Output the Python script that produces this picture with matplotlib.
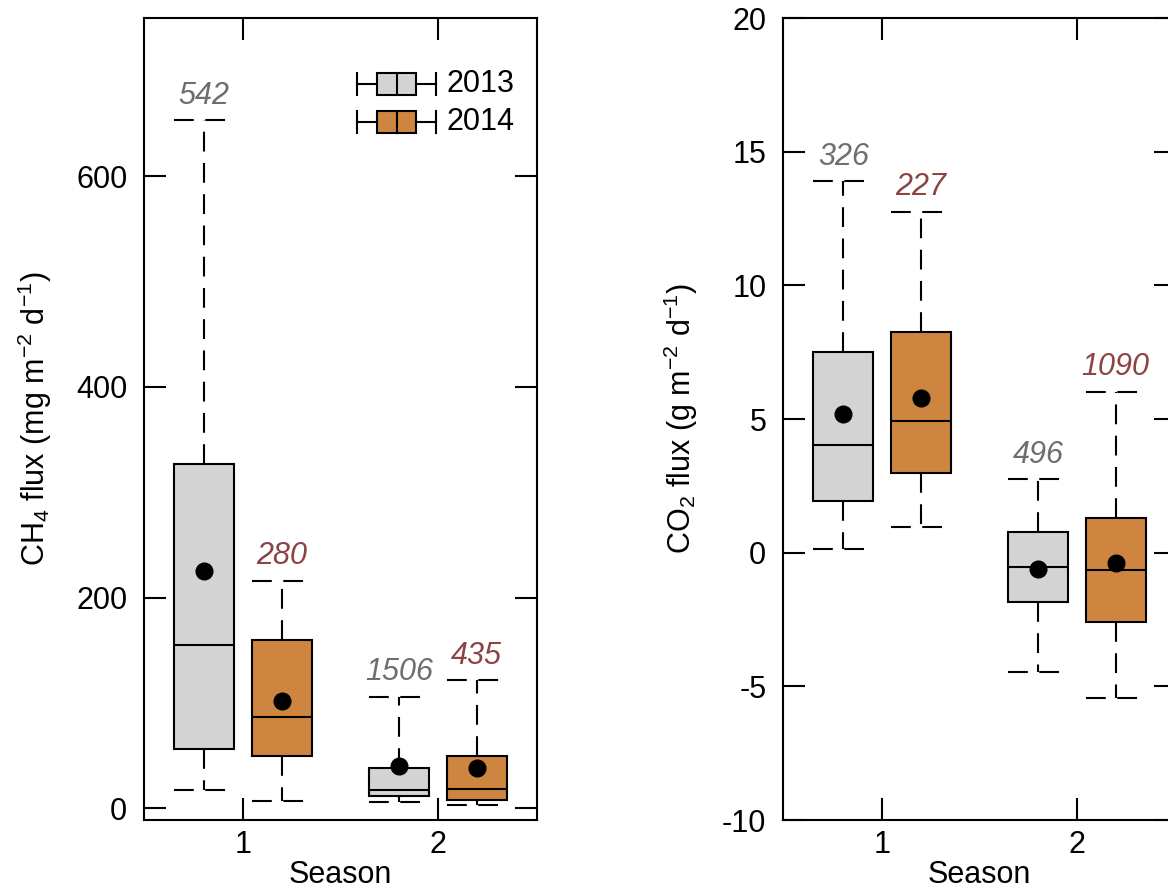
import matplotlib
matplotlib.use("Agg")
import matplotlib.pyplot as plt
from matplotlib.patches import Rectangle
from matplotlib.lines import Line2D

plt.rcParams['font.family'] = ['Liberation Sans', 'DejaVu Sans']
plt.rcParams['mathtext.fontset'] = 'custom'
plt.rcParams['mathtext.rm'] = 'Liberation Sans'
plt.rcParams['mathtext.it'] = 'Liberation Sans:italic'
plt.rcParams['mathtext.default'] = 'regular'

# ---------------- data ----------------
seasons = [1, 2]
years = ["2013", "2014"]

# CH4 flux: [whislo, q1, median, q3, whishi], means, n
ch4_2013 = [[17, 56, 155, 327, 653], [5.7, 11.4, 17, 38, 106]]
ch4_2014 = [[7, 50, 87, 160, 216], [2.9, 8.3, 18, 50, 122]]
ch4_mean_2013 = [225, 40]
ch4_mean_2014 = [102, 38]
ch4_n_2013 = [542, 1506]
ch4_n_2014 = [280, 435]

# CO2 flux
co2_2013 = [[0.14, 1.92, 4.02, 7.5, 13.9], [-4.46, -1.86, -0.52, 0.76, 2.76]]
co2_2014 = [[0.95, 2.99, 4.93, 8.27, 12.76], [-5.42, -2.6, -0.65, 1.29, 6.02]]
co2_mean_2013 = [5.18, -0.6]
co2_mean_2014 = [5.78, -0.37]
co2_n_2013 = [326, 496]
co2_n_2014 = [227, 1090]

col_2013 = "#D3D3D3"
col_2014 = "#CD853F"
txt_2013 = "#6E6E6E"
txt_2014 = "#8B4343"

W, H = 1168, 888
fig = plt.figure(figsize=(W / 100, H / 100), dpi=100)

def px_axes(l, t, r, b):
    return fig.add_axes([l / W, (H - b) / H, (r - l) / W, (b - t) / H])

ax1 = px_axes(144, 18, 537, 820)
ax2 = px_axes(783, 18, 1176, 820)

LW = 1.5
dash = (0, (9.5, 5.5))
FS = 22

def draw(ax, s2013, s2014, m2013, m2014, n2013, n2014):
    for stats_list, means, ns, col, tcol, off in [
        (s2013, m2013, n2013, col_2013, txt_2013, -0.2),
        (s2014, m2014, n2014, col_2014, txt_2014, 0.2),
    ]:
        bstats = []
        pos = []
        for i, s in enumerate(stats_list):
            bstats.append(dict(whislo=s[0], q1=s[1], med=s[2], q3=s[3],
                               whishi=s[4], mean=means[i], fliers=[]))
            pos.append(seasons[i] + off)
        ax.bxp(bstats, positions=pos, widths=0.31, capwidths=0.31,
               patch_artist=True, showmeans=True, showfliers=False,
               boxprops=dict(facecolor=col, edgecolor='black', linewidth=LW),
               medianprops=dict(color='black', linewidth=LW),
               whiskerprops=dict(color='black', linewidth=LW, linestyle=dash),
               capprops=dict(color='black', linewidth=LW, linestyle=dash),
               meanprops=dict(marker='o', markerfacecolor='black',
                              markeredgecolor='black', markersize=12))
        for i, s in enumerate(stats_list):
            ax.annotate(str(ns[i]), xy=(pos[i], s[4]), xytext=(0, 17.5),
                        textcoords='offset points', ha='center', va='center',
                        fontsize=FS, style='italic', color=tcol)
    ax.set_xticks(seasons)
    ax.set_xticklabels([str(s) for s in seasons])
    ax.set_xlim(0.49, 2.51)
    ax.tick_params(direction='in', length=15.8, width=LW, top=True,
                   right=True, labelsize=FS, pad=7)
    ax.tick_params(axis='y', pad=12)
    for sp in ax.spines.values():
        sp.set_linewidth(LW)
    ax.set_xlabel("Season", fontsize=FS)
    ax.xaxis.set_label_coords(0.5, -0.05)

draw(ax1, ch4_2013, ch4_2014, ch4_mean_2013, ch4_mean_2014, ch4_n_2013, ch4_n_2014)
ax1.set_ylim(-11, 750)
ax1.set_yticks([0, 200, 400, 600])
ax1.set_ylabel(r"CH$_4$ flux (mg m$^{-2}$ d$^{-1}$)", fontsize=FS)
ax1.yaxis.set_label_coords(-0.23, 0.5)

draw(ax2, co2_2013, co2_2014, co2_mean_2013, co2_mean_2014, co2_n_2013, co2_n_2014)
ax2.set_ylim(-10, 20)
ax2.set_yticks([-10, -5, 0, 5, 10, 15, 20])
ax2.set_yticklabels(["-10", "-5", "0", "5", "10", "15", "20"])
ax2.set_ylabel(r"CO$_2$ flux (g m$^{-2}$ d$^{-1}$)", fontsize=FS)
ax2.yaxis.set_label_coords(-0.21, 0.5)

# legend (manual, in left panel axes fractions)
def fx(p):
    return (p - 144) / 393
def fy(p):
    return (820 - p) / 802

for yc, col, lab in [(84, col_2013, years[0]), (122, col_2014, years[1])]:
    ax1.add_line(Line2D([fx(357), fx(436)], [fy(yc), fy(yc)], color='black',
                        lw=LW, transform=ax1.transAxes))
    for xc in (357, 436):
        ax1.add_line(Line2D([fx(xc), fx(xc)], [fy(yc - 11), fy(yc + 11)],
                            color='black', lw=LW, transform=ax1.transAxes))
    ax1.add_patch(Rectangle((fx(377), fy(yc + 11)), fx(416) - fx(377),
                            fy(yc - 11) - fy(yc + 11), facecolor=col,
                            edgecolor='black', lw=LW, transform=ax1.transAxes,
                            zorder=3))
    ax1.add_line(Line2D([fx(397), fx(397)], [fy(yc - 11), fy(yc + 11)],
                        color='black', lw=LW, transform=ax1.transAxes, zorder=4))
    ax1.text(fx(446), fy(yc), lab, transform=ax1.transAxes, fontsize=FS,
             ha='left', va='center')

fig.savefig("out.png", dpi=100)
